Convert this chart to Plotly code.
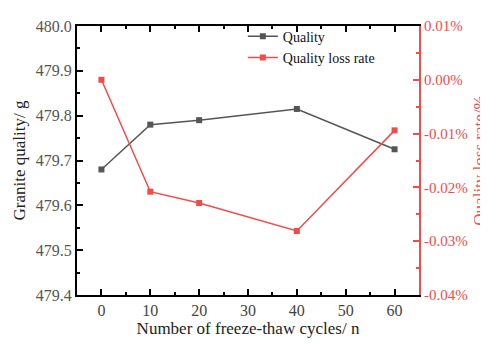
import plotly.graph_objects as go

cycles = [0, 10, 20, 40, 60]
quality = [479.68, 479.78, 479.79, 479.815, 479.725]
loss_rate = [0.0, -0.0208, -0.0229, -0.0281, -0.0094]

q_ticks = [479.4, 479.5, 479.6, 479.7, 479.8, 479.9, 480.0]
r_ticks = [-0.04, -0.03, -0.02, -0.01, 0.0, 0.01]
x_ticks = [0, 10, 20, 30, 40, 50, 60]

GREY = "#555555"
RED = "#f44a4a"
FONT = "Liberation Serif"

fig = go.Figure()
fig.add_trace(go.Scatter(x=cycles, y=quality, name="Quality", mode="lines+markers",
                         line=dict(color=GREY, width=1.5),
                         marker=dict(symbol="square", size=6, color=GREY)))
fig.add_trace(go.Scatter(x=cycles, y=loss_rate, name="Quality loss rate", mode="lines+markers",
                         yaxis="y2",
                         line=dict(color=RED, width=1.5),
                         marker=dict(symbol="square", size=6, color=RED)))

fig.update_layout(
    width=488, height=345,
    margin=dict(l=67, r=76, t=10, b=58),
    plot_bgcolor="white", paper_bgcolor="white",
    font=dict(family=FONT, size=14, color="#333333"),
    showlegend=True,
    legend=dict(x=0.485, y=1.02, xanchor="left", yanchor="top",
                bgcolor="rgba(0,0,0,0)", font=dict(family=FONT, size=14, color="#111111"),
                itemwidth=30, tracegroupgap=0),
    xaxis=dict(range=[-5, 65], tickvals=x_ticks,
               ticks="inside", ticklen=6, tickwidth=1.5, tickcolor="black",
               minor=dict(dtick=5, ticks="inside", ticklen=3, tickcolor="black"),
               showline=True, linecolor="black", linewidth=2, mirror="ticks",
               showgrid=False, zeroline=False,
               tickfont=dict(family=FONT, size=16, color="#444444"),
               title=dict(text="Number of freeze-thaw cycles/ n",
                          font=dict(family=FONT, size=17, color="#222222"), standoff=4)),
    yaxis=dict(range=[479.4, 480.0], tickvals=q_ticks,
               ticktext=[f"{v:.1f}" for v in q_ticks],
               ticks="inside", ticklen=6, tickwidth=1.5, tickcolor="black",
               minor=dict(dtick=0.05, ticks="inside", ticklen=3, tickcolor="black"),
               showline=True, linecolor="black", linewidth=2,
               showgrid=False, zeroline=False,
               tickfont=dict(family=FONT, size=16, color="#555555"),
               title=dict(text="Granite quality/ g",
                          font=dict(family=FONT, size=17, color="#222222"), standoff=6)),
    yaxis2=dict(overlaying="y", side="right", range=[-0.04, 0.01],
                tickvals=r_ticks,
                ticktext=[f"{v:.2f}%" for v in r_ticks],
                ticks="inside", ticklen=6, tickwidth=1.5, tickcolor=RED,
                minor=dict(dtick=0.005, ticks="inside", ticklen=3, tickcolor=RED),
                showline=True, linecolor=RED, linewidth=2,
                showgrid=False, zeroline=False,
                tickfont=dict(family=FONT, size=15, color=RED),
                title=dict(text="Quality loss rate/%",
                           font=dict(family=FONT, size=17, color=RED), standoff=6)),
)

fig.write_html("out.html")
